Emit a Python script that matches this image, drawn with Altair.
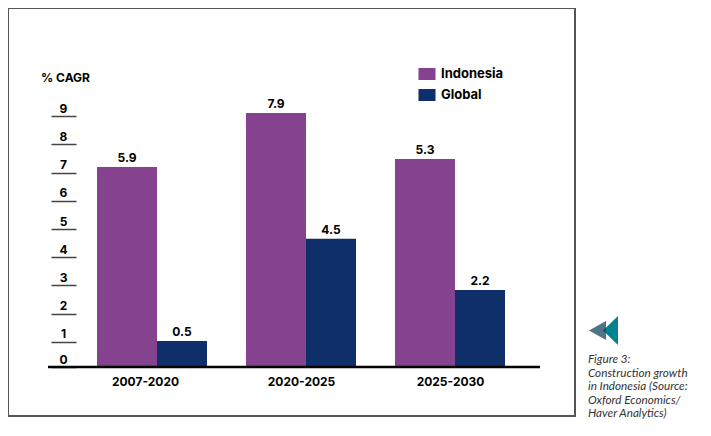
import altair as alt
import pandas as pd

periods = ["2007-2020", "2020-2025", "2025-2030"]
series_names = ["Indonesia", "Global"]
indonesia_labels = ["5.9", "7.9", "5.3"]
global_labels = ["0.5", "4.5", "2.2"]
# bar tops as read against the printed axis (the printed bars do not follow their labels)
indonesia_axis_read = [7.2, 9.11, 7.48]
global_axis_read = [1.03, 4.65, 2.84]
y_ticks = [0.106, 1, 2, 3, 4, 5, 6, 7, 8, 9]
baseline = 0.106
caption = "Figure 3:\nConstruction growth\nin Indonesia (Source:\nOxford Economics/\nHaver Analytics)"

FONT = "Inter"
PURPLE = "#85428F"
NAVY = "#0F2F6B"

rows = []
for i, p in enumerate(periods):
    rows.append(dict(period=p, series="Indonesia", read=indonesia_axis_read[i], label=indonesia_labels[i], base=baseline))
    rows.append(dict(period=p, series="Global", read=global_axis_read[i], label=global_labels[i], base=baseline))
df = pd.DataFrame(rows)

x_scale = alt.Scale(type="point", domain=periods, range=[149, 447], padding=0)
y_scale = alt.Scale(domain=[-1.631, 12.837], nice=False, zero=False)
color_scale = alt.Scale(domain=series_names, range=[PURPLE, NAVY])

base = alt.Chart(df)

x_enc = alt.X("period:N", scale=x_scale, sort=periods, axis=alt.Axis(
    title=None, domain=False, ticks=False, labelAngle=0, offset=-49, labelPadding=9,
    labelOffset={"condition": {"test": "datum.value == '2007-2020'", "value": -12}, "value": -5},
    labelFont=FONT, labelFontSize=12, labelFontWeight="bold",
    labelColor="black", grid=False))
y_enc = alt.Y("read:Q", scale=y_scale, axis=alt.Axis(
    values=y_ticks, labelExpr="round(datum.value)", domain=False, grid=False,
    offset=-68, tickSize=25, tickColor="#444444", tickWidth=1.5,
    labelPadding=-12, labelAlign="center", labelBaseline="bottom", labelOffset=-1,
    labelFont=FONT, labelFontSize=12, labelFontWeight="bold", labelColor="black",
    title="% CAGR", titleAngle=0, titleX=-11, titleY=76, titleAlign="center",
    titleFont=FONT, titleFontSize=12, titleFontWeight="bold", titleColor="black"))
color_enc = alt.Color("series:N", scale=color_scale, sort=series_names, legend=alt.Legend(
    title=None, orient="none", legendX=412, legendY=59, symbolType="M-1.42,-1H1.42V1H-1.42Z",
    symbolSize=144, symbolOpacity=1, rowPadding=7, labelFont=FONT, labelFontSize=13,
    labelFontWeight="bold", labelColor="black", labelOffset=7, padding=0))

bars_a = base.transform_filter("datum.series == 'Indonesia'").mark_bar(width=60, xOffset=-30).encode(
    x=x_enc, y=y_enc, y2="base:Q", color=color_enc)
bars_b = base.transform_filter("datum.series == 'Global'").mark_bar(width=50, xOffset=25).encode(
    x=alt.X("period:N", scale=x_scale, sort=periods), y=alt.Y("read:Q", scale=y_scale), y2="base:Q",
    color=alt.Color("series:N", scale=color_scale, sort=series_names))

text_style = dict(font=FONT, fontSize=12, fontWeight="bold", color="black", baseline="bottom", dy=-2)
labels_a = base.transform_filter("datum.series == 'Indonesia'").mark_text(xOffset=-30, **text_style).encode(
    x=alt.X("period:N", scale=x_scale, sort=periods), y=alt.Y("read:Q", scale=y_scale), text="label:N")
labels_b = base.transform_filter("datum.series == 'Global'").mark_text(xOffset=25, **text_style).encode(
    x=alt.X("period:N", scale=x_scale, sort=periods), y=alt.Y("read:Q", scale=y_scale), text="label:N")

rule = alt.Chart(pd.DataFrame({"b": [baseline]})).mark_rule(color="black", strokeWidth=2.5).encode(
    x=alt.value(40), x2=alt.value(532), y=alt.Y("b:Q", scale=y_scale))

tri_big = alt.Chart(pd.DataFrame({"k": [0]})).mark_point(
    shape="M1,-1.93L1,1.93L-1,0Z", filled=True, size=225, color="#00838F", opacity=1
).encode(x=alt.value(602.5), y=alt.value(322.5))
tri_small = alt.Chart(pd.DataFrame({"k": [0]})).mark_point(
    shape="M1,-1.12L1,1.12L-1,0Z", filled=True, size=289, color="#0B3F58", opacity=0.72
).encode(x=alt.value(589.5), y=alt.value(322.5))
cap = alt.Chart(pd.DataFrame({"k": [0]})).mark_text(
    text=caption, lineBreak="\n", align="left", baseline="top", font="Lato", fontStyle="italic",
    fontSize=11.7, lineHeight=13.5, color="#333333"
).encode(x=alt.value(580), y=alt.value(346))

chart = alt.layer(bars_a, bars_b, labels_a, labels_b, rule, tri_big, tri_small, cap).properties(
    width=567, height=408, padding=0
).configure_view(stroke="#555555", strokeWidth=2).resolve_scale(x="shared", y="shared", color="shared")

chart.save("out.html", embed_options={"renderer": "svg", "actions": False})
